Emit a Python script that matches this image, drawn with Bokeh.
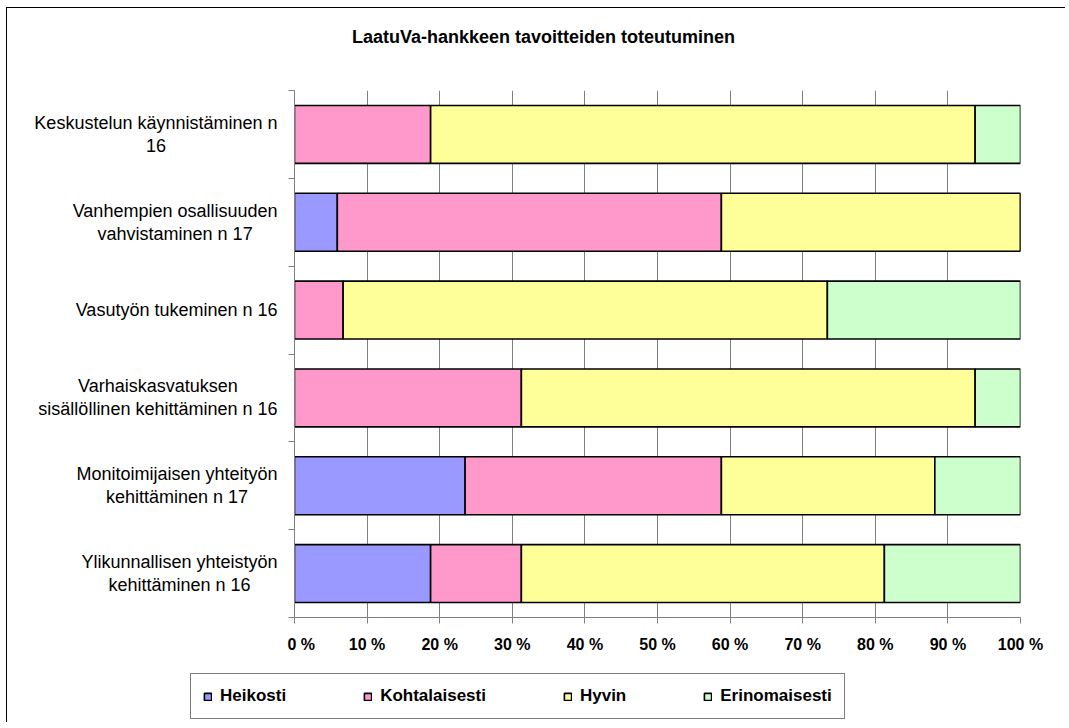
from bokeh.plotting import figure
from bokeh.layouts import column, row
from bokeh.models import Range1d, FixedTicker, ColumnDataSource
from bokeh.core.properties import value
from bokeh.embed import file_html
from bokeh.resources import INLINE

# ---- data (percent of respondents), top to bottom ----
categories = [
    "Keskustelun käynnistäminen n\n16",
    "Vanhempien osallisuuden\nvahvistaminen n 17",
    "Vasutyön tukeminen n 16",
    "Varhaiskasvatuksen\nsisällöllinen kehittäminen n 16",
    "Monitoimijaisen yhteityön\nkehittäminen n 17",
    "Ylikunnallisen yhteistyön\nkehittäminen n 16",
]
heikosti = [0.0, 5.9, 0.0, 0.0, 23.5, 18.75]
kohtalaisesti = [18.75, 52.9, 6.7, 31.25, 35.3, 12.5]
hyvin = [75.0, 41.2, 66.7, 62.5, 29.4, 50.0]
erinomaisesti = [6.25, 0.0, 26.6, 6.25, 11.8, 18.75]
series_names = ["Heikosti", "Kohtalaisesti", "Hyvin", "Erinomaisesti"]
colors = ["#9999FF", "#FF99CC", "#FFFF99", "#CCFFCC"]
x_ticks = [0, 10, 20, 30, 40, 50, 60, 70, 80, 90, 100]
x_tick_labels = ["0 %", "10 %", "20 %", "30 %", "40 %", "50 %", "60 %", "70 %", "80 %", "90 %", "100 %"]
title_text = "LaatuVa-hankkeen tavoitteiden toteutuminen"

n = len(categories)
centers = [n - 0.5 - i for i in range(n)]
bounds = list(range(n + 1))

source = ColumnDataSource(dict(
    y=centers,
    label=categories,
    Heikosti=heikosti,
    Kohtalaisesti=kohtalaisesti,
    Hyvin=hyvin,
    Erinomaisesti=erinomaisesti,
))

FONT = "Liberation Sans"
TOTAL_W = 1058
LAB_W = 280
y_range = Range1d(0, n)
TOP, BOTTOM = 30, 45
H_MAIN = 602
H_TITLE = 52
H_LEG = 60

# ---- title strip ----
tf = figure(width=TOTAL_W, height=H_TITLE, output_backend="svg", toolbar_location=None,
            x_range=Range1d(0, 1), y_range=Range1d(0, 1), x_axis_type=None, y_axis_type=None,
            min_border=0)
tf.outline_line_color = None
tf.grid.visible = False
tf.text(x=[0.5], y=[0.5], text=[title_text], text_align="center", text_baseline="middle",
        x_offset=7, y_offset=2, text_font=value(FONT), text_font_size="18px",
        text_font_style="bold", text_color="black")

# ---- main chart ----
p = figure(width=TOTAL_W - LAB_W, height=H_MAIN, output_backend="svg", toolbar_location=None,
           x_range=Range1d(0, 100), y_range=y_range,
           min_border_left=7, min_border_right=TOTAL_W - LAB_W - 7 - 726,
           min_border_top=TOP, min_border_bottom=BOTTOM)
p.outline_line_color = None
p.background_fill_color = "white"
p.border_fill_color = "white"

p.hbar_stack(series_names, y="y", height=0.66, source=source, color=colors,
             line_color="black", line_width=1.6)

xt = FixedTicker(ticks=x_ticks)
xa = p.xaxis[0]
xa.ticker = xt
xa.major_label_overrides = {t: l for t, l in zip(x_ticks, x_tick_labels)}
xa.axis_line_color = "#808080"
xa.major_tick_line_color = "#808080"
xa.major_tick_in = 0
xa.major_tick_out = 6
xa.minor_tick_line_color = None
xa.major_label_standoff = 12
xa.major_label_text_font = FONT
xa.major_label_text_font_size = "16px"
xa.major_label_text_font_style = "bold"
xa.major_label_text_color = "black"

p.xgrid.ticker = xt
p.xgrid.grid_line_color = "#808080"
p.xgrid.grid_line_width = 1
p.ygrid.visible = False

yt = FixedTicker(ticks=centers, minor_ticks=bounds)
ya = p.yaxis[0]
ya.ticker = yt
ya.major_label_overrides = {c: "" for c in centers}
ya.axis_line_color = "#808080"
ya.major_tick_in = 0
ya.major_tick_out = 0
ya.minor_tick_in = 0
ya.minor_tick_out = 6
ya.minor_tick_line_color = "#808080"
ya.major_label_standoff = 0

# ---- category labels (right-anchored blocks, centred lines) ----
lab = figure(width=LAB_W, height=H_MAIN, output_backend="svg", toolbar_location=None,
             x_range=Range1d(0, 1), y_range=y_range, x_axis_type=None, y_axis_type=None,
             min_border_left=0, min_border_right=0, min_border_top=TOP, min_border_bottom=BOTTOM)
lab.outline_line_color = None
lab.grid.visible = False
lab.text(x=1, y="y", text="label", source=source, anchor="center_right",
         text_align="center", text_baseline="middle", x_offset=-10,
         text_font=value(FONT), text_font_size="18px",
         text_color="black", text_line_height=1.15)

# ---- legend strip (same series as hidden renderers; only their legend shows) ----
leg = figure(width=TOTAL_W, height=H_LEG, output_backend="svg", toolbar_location=None,
             x_range=Range1d(0, 100), y_range=Range1d(0, n), x_axis_type=None, y_axis_type=None,
             min_border=0)
leg.outline_line_color = None
leg.grid.visible = False
rs = leg.hbar_stack(series_names, y="y", height=0.66, source=source, color=colors,
                    line_color="black", line_width=1.6, legend_label=series_names)
for r in rs:
    r.visible = False
lg = leg.legend[0]
lg.inactive_fill_alpha = 0
lg.click_policy = "none"
lg.orientation = "horizontal"
lg.location = (183, 3)
lg.border_line_color = "black"
lg.border_line_width = 1
lg.background_fill_color = "white"
lg.background_fill_alpha = 1
lg.padding = 12
lg.spacing = 77
lg.margin = 0
lg.label_standoff = 8
lg.glyph_width = 9
lg.glyph_height = 9
lg.label_text_font = FONT
lg.label_text_font_size = "17px"
lg.label_text_font_style = "bold"
lg.label_text_color = "black"

layout = column(tf, row(lab, p), leg,
                styles={"margin-left": "6px", "margin-top": "7px",
                        "border-left": "1px solid #000000", "border-top": "1px solid #000000",
                        "background": "white"})

open("out.html", "w").write(file_html(layout, INLINE))
